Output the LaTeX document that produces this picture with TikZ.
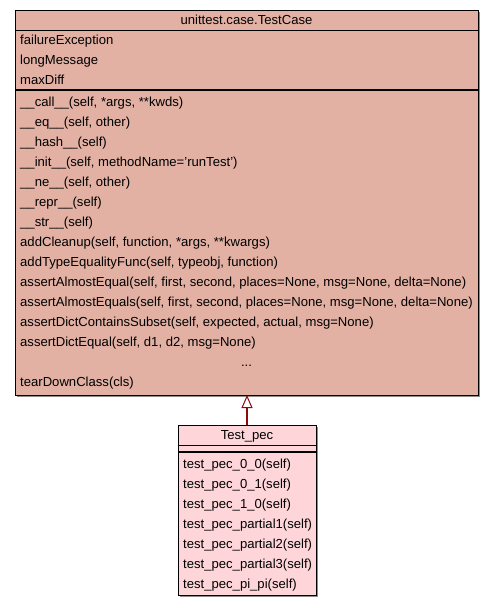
\documentclass[tikz,border=0pt]{standalone}
\usepackage{fontspec}
\setmainfont{Liberation Sans}
\usetikzlibrary{arrows.meta}
\definecolor{topfill}{RGB}{226,177,164}
\definecolor{botfill}{RGB}{254,214,218}
\definecolor{arrowred}{RGB}{140,10,10}
\begin{document}
\begin{tikzpicture}[x=1pt,y=-1pt,
  box/.style={draw=black,line width=1pt},
  shadow/.style={fill=black!45},
  txt/.style={anchor=base west,inner sep=0pt,font=\fontsize{13.1}{15}\selectfont},
  ttl/.style={anchor=base,inner sep=0pt,font=\fontsize{13.1}{15}\selectfont}]
\useasboundingbox (0,0) rectangle (493,605);
% top class
\fill[shadow] (17,12) rectangle (480,397);
\filldraw[box,fill=topfill] (15,10) rectangle (478,395);
\draw[line width=1pt] (15,30) -- (478,30);
\draw[line width=1.5pt] (15,90) -- (478,90);
\node[ttl] (t0) at (246.5,24) {unittest.case.TestCase};
\node[txt] (a1) at (20,44.5) {failureException};
\node[txt] (a2) at (20,64.5) {longMessage};
\node[txt] (a3) at (20,84.5) {maxDiff};
\node[txt] (m1) at (20,106.5) {\_\_call\_\_(self, *args, **kwds)};
\node[txt] (m2) at (20,126.5) {\_\_eq\_\_(self, other)};
\node[txt] (m3) at (20,146.5) {\_\_hash\_\_(self)};
\node[txt] (m4) at (20,166.5) {\_\_init\_\_(self, methodName='runTest')};
\node[txt] (m5) at (20,186.5) {\_\_ne\_\_(self, other)};
\node[txt] (m6) at (20,206.5) {\_\_repr\_\_(self)};
\node[txt] (m7) at (20,226.5) {\_\_str\_\_(self)};
\node[txt] (m8) at (20,246.5) {addCleanup(self, function, *args, **kwargs)};
\node[txt] (m9) at (20,266.5) {addTypeEqualityFunc(self, typeobj, function)};
\node[txt] (m10) at (20,286.5) {assertAlmostEqual(self, first, second, places=None, msg=None, delta=None)};
\node[txt] (m11) at (20,306.5) {assertAlmostEquals(self, first, second, places=None, msg=None, delta=None)};
\node[txt] (m12) at (20,326.5) {assertDictContainsSubset(self, expected, actual, msg=None)};
\node[txt] (m13) at (20,346.5) {assertDictEqual(self, d1, d2, msg=None)};
\node[ttl] (m14) at (246.5,366.5) {...};
\node[txt] (m15) at (20,386.5) {tearDownClass(cls)};
\coordinate (topb) at (247,395);
% bottom class
\fill[shadow] (180,427) rectangle (318,597);
\filldraw[box,fill=botfill] (178,425) rectangle (316,595);
\draw[line width=1pt] (178,445) -- (316,445);
\draw[line width=1.5pt] (178,452) -- (316,452);
\node[ttl] (b0) at (247,439) {Test\_pec};
\node[txt] (b1) at (183,468.5) {test\_pec\_0\_0(self)};
\node[txt] (b2) at (183,488.5) {test\_pec\_0\_1(self)};
\node[txt] (b3) at (183,508.5) {test\_pec\_1\_0(self)};
\node[txt] (b4) at (183,528.5) {test\_pec\_partial1(self)};
\node[txt] (b5) at (183,548.5) {test\_pec\_partial2(self)};
\node[txt] (b6) at (183,568.5) {test\_pec\_partial3(self)};
\node[txt] (b7) at (183,588.5) {test\_pec\_pi\_pi(self)};
\coordinate (botb) at (247,425);
\draw[arrowred,line width=2.5pt,-{Triangle[open,width=11pt,length=13pt,line width=1pt]}] (botb) -- (topb);
\end{tikzpicture}
\end{document}
